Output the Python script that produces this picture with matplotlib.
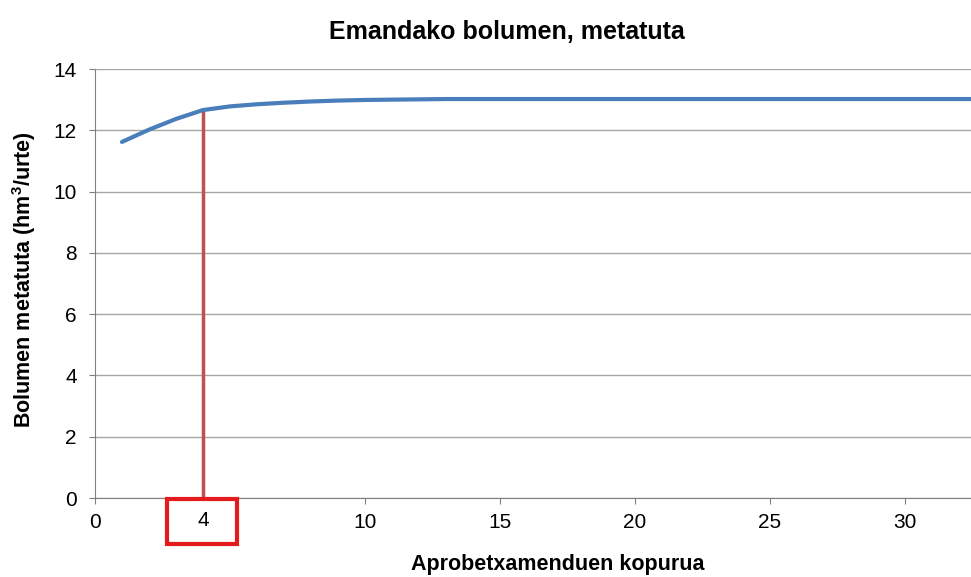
import matplotlib
matplotlib.use('Agg')
import matplotlib.pyplot as plt
from matplotlib.patches import Rectangle

plt.rcParams['font.family'] = ['Liberation Sans', 'DejaVu Sans']
plt.rcParams['mathtext.fontset'] = 'custom'
plt.rcParams['mathtext.bf'] = 'Liberation Sans:bold'
plt.rcParams['mathtext.rm'] = 'Liberation Sans'

# number of uses (category index) and cumulative delivered volume (hm3/year)
n_uses = list(range(1, 35))
volume = [11.62, 12.02, 12.37, 12.66, 12.78, 12.85, 12.90, 12.94, 12.97, 12.99,
          13.00, 13.01, 13.02, 13.02, 13.02, 13.02, 13.02, 13.02, 13.02, 13.02,
          13.02, 13.02, 13.02, 13.02, 13.02, 13.02, 13.02, 13.02, 13.02, 13.02,
          13.02, 13.02, 13.02, 13.02]
chosen_n = 4
chosen_vol = 12.66
x_ticks = [0, 10, 15, 20, 25, 30]
y_ticks = [0, 2, 4, 6, 8, 10, 12, 14]

BLUE = '#4A7EBB'
RED_LINE = '#C0504D'
RED_BOX = '#E41A1C'
GRID = '#A6A6A6'

fig = plt.figure(figsize=(9.71, 5.77), dpi=100)
ax = fig.add_axes([0.0978, 0.1369, 0.9022, 0.7435])

ax.plot(n_uses, volume, color=BLUE, lw=3, solid_capstyle='round', zorder=3)
ax.plot([chosen_n, chosen_n], [0, chosen_vol], color=RED_LINE, lw=2.5, zorder=2)

ax.set_xlim(0, 32.45)
ax.set_ylim(0, 14)
ax.set_xticks(x_ticks)
ax.set_yticks(y_ticks)
ax.tick_params(axis='both', labelsize=15, colors='#808080', labelcolor='black', length=4)
ax.tick_params(axis='x', pad=6.5)
ax.tick_params(axis='y', pad=9)
ax.grid(axis='y', color=GRID, lw=1)
ax.set_axisbelow(True)
for s in ['top', 'right']:
    ax.spines[s].set_visible(False)
for s in ['left', 'bottom']:
    ax.spines[s].set_color('#808080')

# red box around the chosen number of uses
tr = ax.get_xaxis_transform()
ax.add_patch(Rectangle((2.67, -0.107), 2.59, 0.105, transform=tr, clip_on=False,
                       fc='white', ec=RED_BOX, lw=3, zorder=5))
ax.text(chosen_n, -0.053, str(chosen_n), transform=tr, ha='center', va='center',
        fontsize=15, zorder=6)

fig.text(0.522, 0.945, 'Emandako bolumen, metatuta', fontsize=18, fontweight='bold',
         ha='center', va='center')
ax.set_xlabel('Aprobetxamenduen kopurua', fontsize=15.5, fontweight='bold', va='center')
ax.xaxis.set_label_coords(0.5285, -0.156)
ax.set_ylabel(r'Bolumen metatuta (hm$^\mathbf{3}$/urte)', fontsize=15.5, fontweight='bold',
              va='center')
ax.yaxis.set_label_coords(-0.081, 0.51)

fig.savefig('out.png', dpi=100, facecolor='white')
